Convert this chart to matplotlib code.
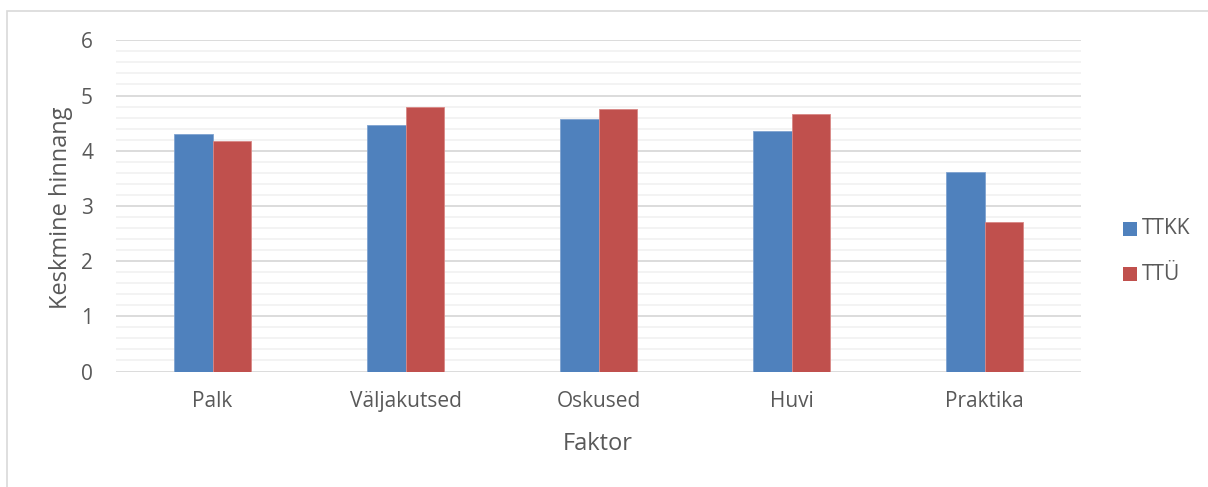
import matplotlib
matplotlib.use("Agg")
import matplotlib.pyplot as plt
import numpy as np
from matplotlib.patches import Rectangle
from matplotlib.ticker import MultipleLocator

categories = ["Palk", "Väljakutsed", "Oskused", "Huvi", "Praktika"]
ttkk = [4.30, 4.47, 4.57, 4.36, 3.62]
ttu = [4.18, 4.80, 4.76, 4.66, 2.70]
series_names = ["TTKK", "TTÜ"]
colors = ["#4F81BD", "#C0504D"]

plt.rcParams['font.family'] = ['Open Sans', 'DejaVu Sans']

W, H = 1208, 487
fig = plt.figure(figsize=(W/100, H/100), dpi=100)
ax = fig.add_axes([116/W, 1-371.5/H, (1081-116)/W, (371.5-40.3)/H])

x = np.arange(len(categories))
bw = 0.2
ax.bar(x - bw/2, ttkk, bw, color=colors[0], label=series_names[0], zorder=3,
       edgecolor="#7FA3D0", linewidth=0.6)
ax.bar(x + bw/2, ttu, bw, color=colors[1], label=series_names[1], zorder=3,
       edgecolor="#D98785", linewidth=0.6)

ax.set_xlim(-0.5, len(categories) - 0.5)
ax.set_ylim(0, 6)
ax.yaxis.set_major_locator(MultipleLocator(1))
ax.yaxis.set_minor_locator(MultipleLocator(0.2))
ax.grid(axis='y', which='major', color='#D9D9D9', linewidth=1.3, zorder=0)
ax.grid(axis='y', which='minor', color='#F2F2F2', linewidth=1.3, zorder=0)
for s in ax.spines.values():
    s.set_visible(False)
ax.tick_params(axis='both', which='both', length=0, colors='#595959', labelsize=15)
ax.tick_params(axis='y', pad=16.5)
ax.tick_params(axis='x', pad=14)
ax.set_xticks(x)
ax.set_xticklabels(categories)

fig.text(61/W, 1-208/H, "Keskmine hinnang", rotation=90, ha='center', va='center',
         fontsize=17, color='#595959')
fig.text(598/W, 1-444/H, "Faktor", ha='center', va='center', fontsize=17, color='#595959')

# legend
for name, c, yy in zip(series_names, colors, [228.5, 274]):
    fig.patches.append(Rectangle((1123/W, 1-(yy+7)/H), 14/W, 14/H, transform=fig.transFigure,
                                 facecolor=c, edgecolor='none'))
    fig.text(1142/W, 1-yy/H, name, ha='left', va='center', fontsize=15, color='#595959')

# chart border
fig.patches.append(Rectangle((7.5/W, -0.1), 1.2, 1 + 0.1 - 11/H, transform=fig.transFigure,
                             facecolor='none', edgecolor='#D9D9D9', linewidth=1.2))

fig.savefig("out.png", dpi=100)
